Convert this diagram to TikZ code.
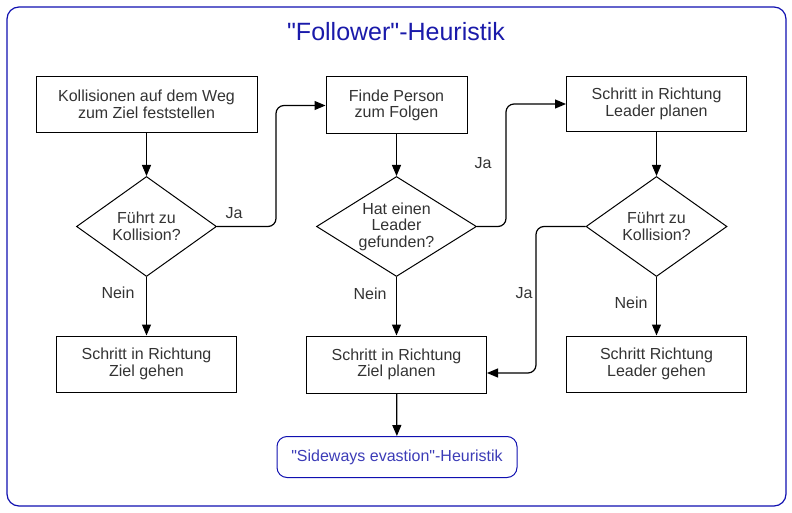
\documentclass[tikz,border=0pt]{standalone}
\usepackage{fontspec}
\setmainfont{Liberation Sans}[Ligatures=TeXOff]
\usetikzlibrary{shapes.geometric,arrows.meta}
\definecolor{txt}{HTML}{333333}
\definecolor{frameblue}{HTML}{1010B0}
\definecolor{titleblue}{HTML}{1A1AAA}
\begin{document}
\begin{tikzpicture}[x=1pt,y=-1pt,
  every node/.style={font=\fontsize{16}{16.5}\selectfont, text=txt},
  box/.style={draw=black, line width=1pt, rectangle, align=center, inner sep=0pt},
  dia/.style={draw=black, line width=1pt, diamond, inner sep=0pt},
  dtext/.style={align=center, inner sep=0pt},
  conn/.style={draw=black, line width=1.2pt, rounded corners=8pt, -{Triangle[length=11pt,width=9pt]}},
  lbl/.style={inner sep=0pt}
]
\useasboundingbox (0,0) rectangle (792,513);
\draw[frameblue, line width=1.2pt, rounded corners=12pt] (7,7) rectangle (786,506);
\node[text=titleblue, font=\fontsize{25}{28}\selectfont] (title) at (396,32) {"Follower"-Heuristik};

\node[box, minimum width=221pt, minimum height=56pt] (A) at (146.5,104.5) {Kollisionen auf dem Weg\\zum Ziel feststellen};
\node[box, minimum width=141pt, minimum height=57pt] (B) at (396.5,105.5) {Finde Person\\zum Folgen};
\node[box, minimum width=180pt, minimum height=55pt] (C) at (656.5,104) {Schritt in Richtung\\Leader planen};

\node[dia, minimum width=140pt, minimum height=100pt] (D1) at (146.5,226.5) {};
\node[dtext] (D1t) at (D1) {Führt zu\\Kollision?};
\node[dia, minimum width=160pt, minimum height=100pt] (D2) at (396.5,226.5) {};
\node[dtext] (D2t) at (D2) {Hat einen\\Leader\\gefunden?};
\node[dia, minimum width=141pt, minimum height=100pt] (D3) at (656.5,226.5) {};
\node[dtext] (D3t) at (D3) {Führt zu\\Kollision?};

\node[box, minimum width=180pt, minimum height=56pt] (E) at (146.5,364) {Schritt in Richtung\\Ziel gehen};
\node[box, minimum width=180pt, minimum height=57pt] (F) at (396.5,364.5) {Schritt in Richtung\\Ziel planen};
\node[box, minimum width=180pt, minimum height=56pt] (G) at (656.5,364) {Schritt Richtung\\Leader gehen};

\node[draw=frameblue, line width=1pt, rounded corners=10pt, minimum width=240pt, minimum height=41pt, inner sep=0pt, text=titleblue!85] (H) at (397,457) {"Sideways evastion"-Heuristik};

\draw[conn] (A) -- (D1);
\draw[conn] (D1.east) -| (276,160) |- (B.west);
\draw[conn] (D1.south) -- (E.north);
\draw[conn] (B) -- (D2);
\draw[conn] (D2.east) -| (506,160) |- (C.west);
\draw[conn] (D2.south) -- (F.north);
\draw[conn] (C) -- (D3);
\draw[conn] (D3.west) -| (536,300) |- ([yshift=-8.5pt]F.east);
\draw[conn] (D3.south) -- (G.north);
\draw[conn] (F) -- (H);

\node[lbl] (l1) at (234,213) {Ja};
\node[lbl] (l2) at (118,293) {Nein};
\node[lbl] (l3) at (483,163) {Ja};
\node[lbl] (l4) at (370,294) {Nein};
\node[lbl] (l5) at (524,293) {Ja};
\node[lbl] (l6) at (631,303) {Nein};
\end{tikzpicture}
\end{document}
